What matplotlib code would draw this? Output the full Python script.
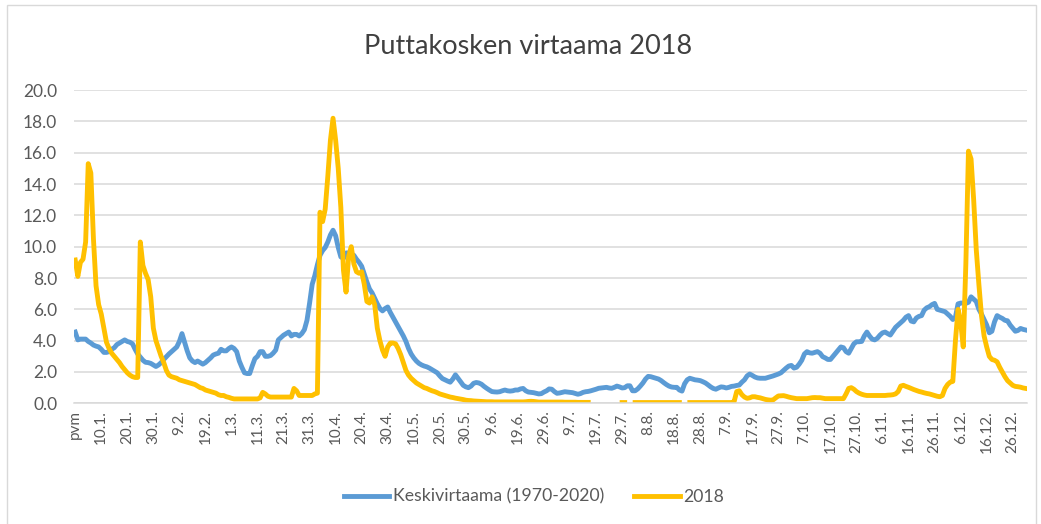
import numpy as np
import matplotlib
matplotlib.use("Agg")
import matplotlib.pyplot as plt
from matplotlib.patches import Rectangle

plt.rcParams['font.family'] = ['Lato', 'DejaVu Sans']

nan = np.nan

# Keskivirtaama (1970-2020), index 0 = "pvm" row, then one value per day
keskivirtaama = [
    4.55, 4.05, 4.1, 4.1, 4.1, 3.95, 3.85, 3.72, 3.65, 3.6,
    3.45, 3.25, 3.25, 3.3, 3.45, 3.55, 3.75, 3.85, 3.95, 4.05,
    3.95, 3.9, 3.8, 3.45, 3.15, 2.95, 2.75, 2.62, 2.6, 2.55,
    2.45, 2.35, 2.45, 2.6, 2.8, 2.98, 3.15, 3.3, 3.45, 3.6,
    3.95, 4.45, 3.9, 3.35, 2.9, 2.7, 2.6, 2.7, 2.6, 2.5,
    2.6, 2.75, 2.9, 3.08, 3.15, 3.2, 3.45, 3.35, 3.35, 3.5,
    3.6, 3.5, 3.3, 2.7, 2.3, 1.95, 1.9, 1.9, 2.4, 2.85,
    3.0, 3.3, 3.3, 3.0, 3.0, 3.05, 3.2, 3.4, 4.05, 4.2,
    4.35, 4.45, 4.55, 4.3, 4.4, 4.4, 4.3, 4.45, 4.7, 5.3,
    6.4, 7.6, 8.15, 8.85, 9.45, 9.75, 9.95, 10.3, 10.75, 11.05,
    10.7, 9.95, 9.35, 9.25, 9.6, 9.6, 9.5, 9.45, 9.2, 9.0,
    8.75, 8.25, 7.75, 7.3, 7.05, 6.7, 6.35, 6.05, 5.9, 6.05,
    6.15, 5.8, 5.5, 5.2, 4.9, 4.6, 4.3, 3.95, 3.5, 3.15,
    2.9, 2.7, 2.55, 2.45, 2.38, 2.33, 2.25, 2.15, 2.05, 1.95,
    1.75, 1.58, 1.5, 1.42, 1.35, 1.55, 1.82, 1.6, 1.38, 1.15,
    1.05, 1.0, 1.1, 1.28, 1.33, 1.3, 1.22, 1.08, 0.96, 0.85,
    0.75, 0.73, 0.72, 0.74, 0.8, 0.85, 0.8, 0.78, 0.8, 0.85,
    0.85, 0.92, 0.95, 0.8, 0.72, 0.7, 0.68, 0.64, 0.6, 0.62,
    0.72, 0.8, 0.92, 0.9, 0.75, 0.64, 0.66, 0.7, 0.74, 0.72,
    0.7, 0.68, 0.63, 0.58, 0.62, 0.7, 0.74, 0.76, 0.8, 0.85,
    0.9, 0.96, 0.98, 1.0, 1.02, 0.98, 0.96, 1.02, 1.1, 1.05,
    0.98, 1.0, 1.12, 1.12, 0.8, 0.8, 0.92, 1.1, 1.3, 1.55,
    1.72, 1.7, 1.65, 1.6, 1.55, 1.45, 1.32, 1.2, 1.1, 1.04,
    1.02, 1.02, 0.85, 0.78, 1.25, 1.5, 1.6, 1.55, 1.5, 1.48,
    1.45, 1.38, 1.3, 1.18, 1.05, 0.95, 0.9, 0.98, 1.05, 1.03,
    0.98, 1.02, 1.08, 1.1, 1.14, 1.17, 1.35, 1.5, 1.75, 1.87,
    1.78, 1.68, 1.62, 1.6, 1.6, 1.6, 1.65, 1.7, 1.75, 1.81,
    1.87, 1.95, 2.1, 2.25, 2.38, 2.42, 2.25, 2.3, 2.5, 2.75,
    3.15, 3.3, 3.22, 3.2, 3.25, 3.3, 3.2, 2.98, 2.9, 2.8,
    2.8, 3.0, 3.2, 3.4, 3.6, 3.55, 3.3, 3.2, 3.5, 3.8,
    3.93, 3.93, 3.95, 4.3, 4.55, 4.3, 4.1, 4.05, 4.15, 4.35,
    4.5, 4.55, 4.45, 4.36, 4.6, 4.85, 5.0, 5.15, 5.3, 5.5,
    5.6, 5.25, 5.2, 5.45, 5.55, 5.6, 5.95, 6.1, 6.17, 6.3,
    6.38, 6.0, 5.95, 5.9, 5.85, 5.7, 5.55, 5.35, 5.5, 6.35,
    6.4, 6.4, 6.38, 6.45, 6.8, 6.65, 6.5, 6.0, 5.7, 5.35,
    5.0, 4.5, 4.6, 5.2, 5.6, 5.5, 5.42, 5.3, 5.27, 5.0,
    4.8, 4.6, 4.65, 4.78, 4.72, 4.68,
]

# 2018, gaps in summer are missing measurements
virtaama_2018 = [
    9.15, 8.1, 9.0, 9.2, 10.3, 15.3, 14.7, 10.5, 7.5, 6.3,
    5.7, 4.8, 3.9, 3.5, 3.2, 3.0, 2.8, 2.6, 2.35, 2.15,
    1.95, 1.8, 1.7, 1.65, 1.65, 10.3, 8.8, 8.3, 7.9, 6.8,
    4.8, 4.0, 3.5, 3.0, 2.6, 2.1, 1.8, 1.7, 1.65, 1.6,
    1.5, 1.45, 1.4, 1.35, 1.3, 1.25, 1.2, 1.1, 1.0, 0.95,
    0.85, 0.8, 0.75, 0.7, 0.65, 0.55, 0.5, 0.5, 0.42, 0.38,
    0.32, 0.28, 0.28, 0.28, 0.28, 0.28, 0.28, 0.28, 0.28, 0.28,
    0.28, 0.35, 0.7, 0.6, 0.45, 0.4, 0.4, 0.4, 0.4, 0.4,
    0.4, 0.4, 0.4, 0.4, 0.95, 0.8, 0.5, 0.5, 0.5, 0.5,
    0.5, 0.5, 0.6, 0.65, 12.2, 11.6, 12.4, 14.5, 16.8, 18.2,
    16.8, 15.0, 12.5, 8.5, 7.1, 9.4, 10.0, 8.9, 8.4, 8.3,
    8.4, 7.6, 6.5, 6.4, 6.8, 6.3, 4.8, 4.0, 3.4, 3.0,
    3.6, 3.85, 3.85, 3.8, 3.5, 3.1, 2.6, 2.1, 1.8, 1.6,
    1.45, 1.3, 1.2, 1.1, 1.0, 0.95, 0.87, 0.8, 0.75, 0.68,
    0.6, 0.55, 0.5, 0.45, 0.4, 0.37, 0.33, 0.3, 0.27, 0.24,
    0.2, 0.18, 0.17, 0.15, 0.14, 0.13, 0.12, 0.11, 0.1, 0.1,
    0.1, 0.09, 0.09, 0.09, 0.09, 0.09, 0.09, 0.09, 0.09, 0.09,
    0.09, 0.09, 0.09, 0.1, 0.12, 0.13, 0.12, 0.1, 0.08, 0.08,
    0.08, 0.08, 0.08, 0.08, 0.08, 0.08, 0.08, 0.08, 0.07, 0.07,
    0.07, 0.07, 0.07, 0.06, 0.06, 0.06, 0.06, 0.06, nan, nan,
    nan, nan, nan, nan, nan, nan, nan, nan, nan, nan,
    0.05, 0.05, nan, nan, nan, 0.05, 0.05, 0.05, 0.05, 0.05,
    0.05, 0.05, 0.05, 0.05, 0.05, 0.05, 0.05, 0.05, 0.05, 0.05,
    0.05, 0.05, 0.05, nan, nan, nan, 0.05, 0.05, 0.05, 0.05,
    0.05, 0.05, 0.05, 0.05, 0.05, 0.05, 0.05, 0.05, 0.05, 0.05,
    0.05, 0.05, 0.05, 0.1, 0.75, 0.8, 0.55, 0.4, 0.32, 0.35,
    0.42, 0.42, 0.38, 0.35, 0.3, 0.25, 0.22, 0.2, 0.22, 0.35,
    0.47, 0.48, 0.49, 0.45, 0.4, 0.36, 0.33, 0.3, 0.3, 0.3,
    0.3, 0.3, 0.33, 0.36, 0.37, 0.36, 0.36, 0.33, 0.3, 0.3,
    0.3, 0.3, 0.3, 0.3, 0.3, 0.3, 0.6, 0.95, 1.0, 0.9,
    0.75, 0.65, 0.58, 0.53, 0.5, 0.5, 0.5, 0.5, 0.5, 0.5,
    0.5, 0.5, 0.52, 0.53, 0.55, 0.6, 0.75, 1.1, 1.15, 1.08,
    1.02, 0.95, 0.88, 0.82, 0.76, 0.72, 0.67, 0.63, 0.6, 0.55,
    0.5, 0.45, 0.42, 0.5, 0.95, 1.2, 1.35, 1.4, 4.0, 6.0,
    5.2, 3.6, 8.9, 16.1, 15.6, 13.0, 9.8, 7.6, 5.6, 4.3,
    3.6, 3.0, 2.8, 2.75, 2.65, 2.3, 2.0, 1.7, 1.45, 1.3,
    1.15, 1.08, 1.06, 1.03, 0.98, 0.95,
]

tick_labels = ["pvm", "10.1.", "20.1.", "30.1.", "9.2.", "19.2.", "1.3.", "11.3.",
               "21.3.", "31.3.", "10.4.", "20.4.", "30.4.", "10.5.", "20.5.", "30.5.",
               "9.6.", "19.6.", "29.6.", "9.7.", "19.7.", "29.7.", "8.8.", "18.8.",
               "28.8.", "7.9.", "17.9.", "27.9.", "7.10.", "17.10.", "27.10.", "6.11.",
               "16.11.", "26.11.", "6.12.", "16.12.", "26.12."]

x = np.arange(len(keskivirtaama))
text_col = '#595959'
grid_col = '#D9D9D9'

fig = plt.figure(figsize=(10.41, 5.24), dpi=100)
ax = fig.add_axes([0.071, 0.2303, 0.9156, 0.5979])

ax.plot(x, keskivirtaama, color='#5B9BD5', lw=3.5, solid_joinstyle='round',
        label='Keskivirtaama (1970-2020)')
ax.plot(x, virtaama_2018, color='#FFC000', lw=3.5, solid_joinstyle='round',
        label='2018')

ax.set_xlim(-0.5, len(x) - 0.5)
ax.set_ylim(0, 20)
ax.set_yticks(np.arange(0, 20.1, 2))
ax.set_yticklabels(['%.1f' % v for v in np.arange(0, 20.1, 2)])
ax.set_xticks(np.arange(0, len(x), 10))
ax.set_xticklabels(tick_labels, rotation=90)
ax.tick_params(axis='both', length=0, colors=text_col)
ax.tick_params(axis='y', labelsize=12.5, pad=12)
ax.tick_params(axis='x', labelsize=11, pad=5)

ax.grid(axis='y', color=grid_col, lw=1.1)
ax.set_axisbelow(True)
for s in ['top', 'right', 'left']:
    ax.spines[s].set_visible(False)
ax.spines['bottom'].set_color(grid_col)
ax.spines['bottom'].set_linewidth(1.1)

fig.text(0.507, 0.912, 'Puttakosken virtaama 2018', ha='center', va='center',
         fontsize=19.5, color='#404040')

fig.legend(loc='center', bbox_to_anchor=(0.513, 0.052), ncol=2, frameon=False,
           fontsize=12.7, labelcolor=text_col, handlelength=2.6, handletextpad=0.2,
           columnspacing=1.7)

fig.patches.append(Rectangle((0.007, -0.01), 0.988, 1.0, transform=fig.transFigure,
                             fill=False, edgecolor=grid_col, lw=1.0))

fig.savefig('out.png', dpi=100)
